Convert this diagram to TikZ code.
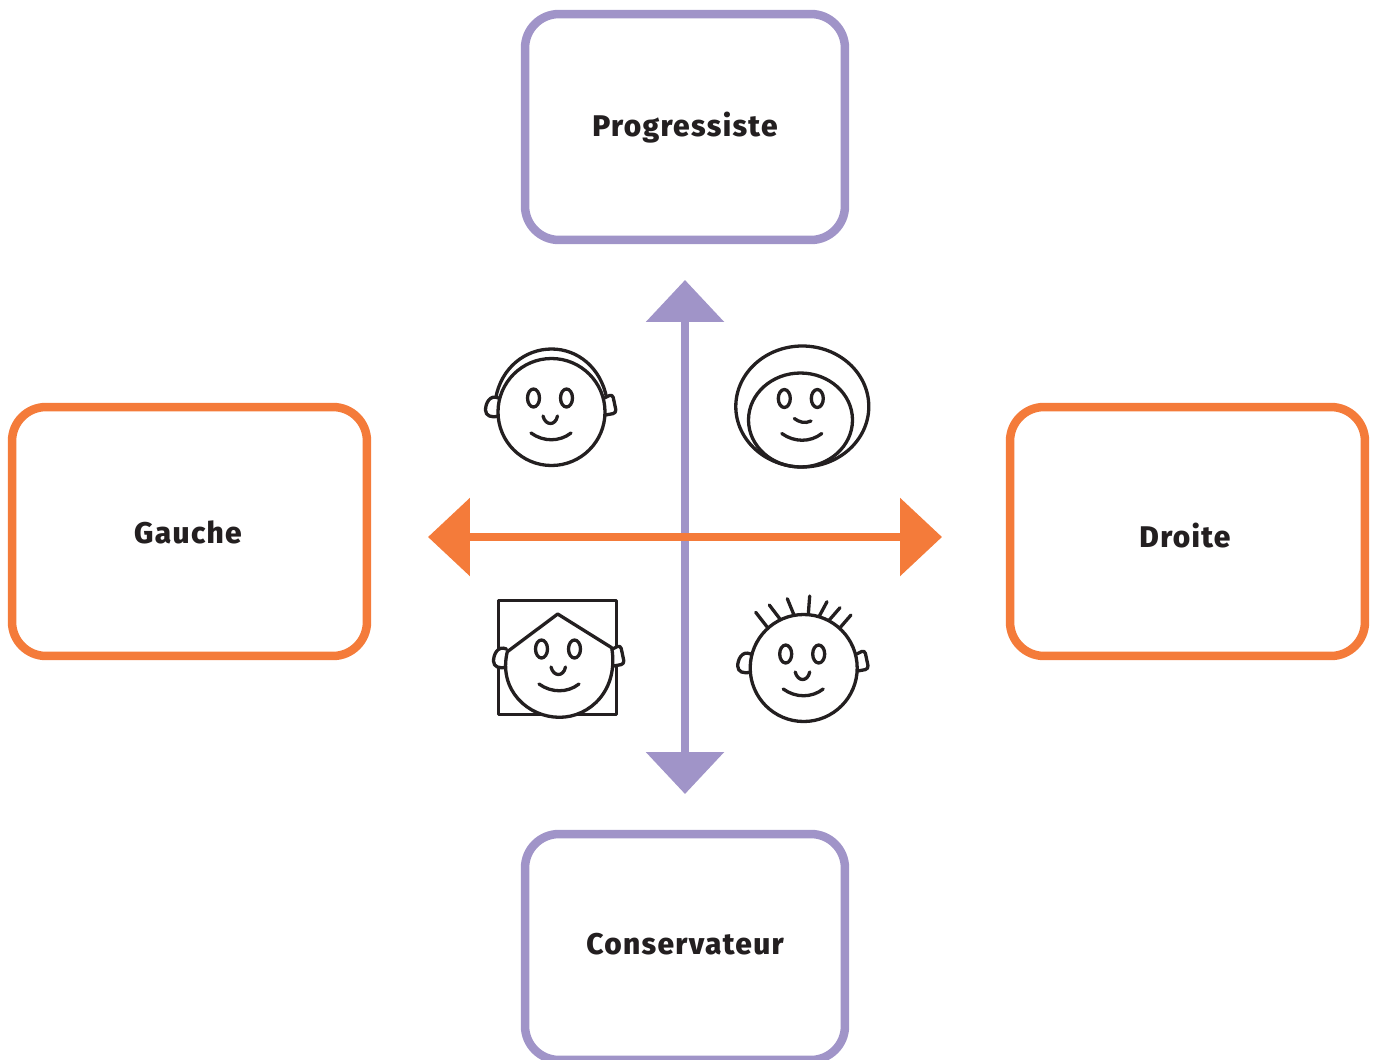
\documentclass[tikz,border=0pt]{standalone}
\usepackage{fontspec}
\setmainfont{Fira Sans}[BoldFont=Fira Sans ExtraBold]
\usetikzlibrary{arrows.meta}
\definecolor{axisviolet}{HTML}{A094C8}
\definecolor{axisorange}{HTML}{F47B3A}
\definecolor{inkblack}{HTML}{231F20}
\tikzset{
    sidebox/.style={draw,line width=0.17cm,rounded corners=0.68cm,fill=white},
    vbox/.style={sidebox,draw=axisviolet,minimum width=6.4cm,minimum height=4.52cm},
    hbox/.style={sidebox,draw=axisorange,minimum width=7.1cm,minimum height=4.98cm},
    boxlabel/.style={font=\bfseries\fontsize{17}{18}\selectfont\addfontfeature{LetterSpace=4.5},text=inkblack,inner sep=0pt},
    vaxis/.style={draw=axisviolet,line width=0.17cm,{Triangle[width=1.53cm,length=0.84cm]}-{Triangle[width=1.53cm,length=0.84cm]}},
    haxis/.style={draw=axisorange,line width=0.17cm,{Triangle[width=1.53cm,length=0.84cm]}-{Triangle[width=1.53cm,length=0.84cm]}},
    faceline/.style={draw=inkblack,line width=0.066cm,line cap=round,line join=round},
}
\newcommand\FaceEars[2]{%
    \begin{scope}[shift={(#1,#2)}]
        \draw[faceline,fill=white] (-53,-14) .. controls (-62,-18) and (-66,-8) .. (-66,-2) .. controls (-66,4) and (-60,6) .. (-53,4);
        \draw[faceline,fill=white,rounded corners=2pt] (53,-14) -- (61,-18) -- (65,1) -- (54,3);
    \end{scope}
}
\newcommand\FaceParts[2]{%
    \begin{scope}[shift={(#1,#2)}]
        \draw[faceline] (-18,-14) ellipse [x radius=6,y radius=9];
        \draw[faceline] (15,-14) ellipse [x radius=6,y radius=9];
        \draw[faceline] (-20.5,21) .. controls (-8,30) and (8,30) .. (19.5,21);
    \end{scope}
}
\newcommand\FaceNose[2]{%
    \draw[faceline,shift={(#1,#2)}] (-8.5,4) .. controls (-6,14) and (4,14) .. (6,4);
}
\begin{document}
\begin{tikzpicture}[x=0.02cm,y=-0.02cm]
    \useasboundingbox (0,0) rectangle (1377,1059);
    \node[vbox] (Progressiste) at (685,127) {};
    \node[vbox] (Conservateur) at (685,947) {};
    \node[hbox] (Gauche) at (189.5,531.5) {};
    \node[hbox] (Droite) at (1187.5,531.5) {};
    \node[boxlabel] (ProgressisteText) at (685,128) {Progressiste};
    \node[boxlabel] (ConservateurText) at (685,944) {Conservateur};
    \node[boxlabel] (GaucheText) at (188,532) {Gauche};
    \node[boxlabel] (DroiteText) at (1185,536) {Droite};
    \coordinate (AxisTop) at (685,280);
    \coordinate (AxisBottom) at (685,794);
    \coordinate (AxisLeft) at (428,537);
    \coordinate (AxisRight) at (942,537);
    \draw[vaxis] (AxisBottom) -- (AxisTop);
    \draw[haxis] (AxisLeft) -- (AxisRight);
    % top left face
    \draw[faceline] (495.7,398.3) .. controls (501,368) and (525,349) .. (551.6,349) .. controls (578,349) and (601,368) .. (606.7,398.3);
    \FaceEars{551.5}{412}
    \draw[faceline,fill=white] (551.5,412) circle [radius=53.5];
    \FaceParts{551.5}{412}
    \FaceNose{551.5}{412}
    % top right face
    \draw[faceline] (802.3,406.5) ellipse [x radius=66.5,y radius=60.5];
    \draw[faceline] (800.5,420) ellipse [x radius=52,y radius=47];
    \FaceParts{802.3}{412.5}
    \draw[faceline] (794.3,418.5) .. controls (799,422) and (805,424) .. (811,421);
    % bottom left face
    \draw[faceline] (498.3,600.5) rectangle (616.7,714.3);
    \FaceEars{559.5}{663}
    \draw[faceline,fill=white] (507.3,651.7) -- (557.7,614) -- (611.7,647.7) .. controls (619,690) and (590,717.3) .. (559.5,717.3) .. controls (528,717.3) and (498,690) .. (507.3,651.7) -- cycle;
    \FaceParts{559.5}{663}
    \FaceNose{559.5}{663}
    % bottom right face
    \foreach \xa/\ya/\xb/\yb in {767.7/627.7/755.7/612.3,780/619/769.3/605,794/615/787.3/598.7,808.3/614.3/809.7/596,819/616.7/827/601.7,829.3/620/840/607.7,840/627.7/851/615}
        \draw[faceline] (\xa,\ya) -- (\xb,\yb);
    \FaceEars{803.7}{668}
    \draw[faceline,fill=white] (803.7,668) circle [radius=53.5];
    \FaceParts{803.7}{668}
    \FaceNose{803.7}{668}
\end{tikzpicture}
\end{document}
